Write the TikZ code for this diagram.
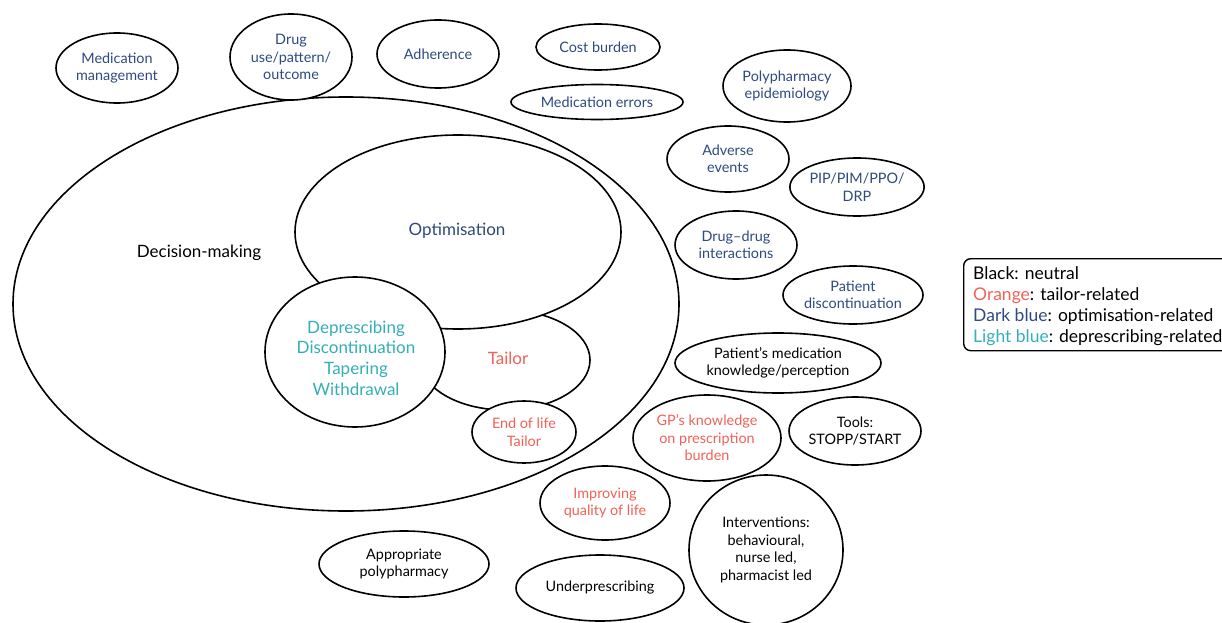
\documentclass[tikz,border=0pt]{standalone}
\usepackage{fontspec}
\setmainfont{Lato}
\usetikzlibrary{shapes.geometric}
\definecolor{dblue}{RGB}{46,74,128}
\definecolor{orng}{RGB}{240,98,88}
\definecolor{lblue}{RGB}{52,174,184}
\tikzset{
  ell/.style={ellipse, draw=black, line width=1.6pt, fill=white, inner sep=0pt, align=center,
    font=\fontsize{14.4}{17.5}\selectfont},
  lbl/.style={inner sep=0pt, align=center},
}
\newcommand{\ellnode}[6]{% name, x, y, rx, ry, text
  \node[ell, minimum width=#4*2pt, minimum height=#5*2pt] (#1) at (#2,#3) {#6};}
\begin{document}
\begin{tikzpicture}[x=1pt,y=-1pt]
\useasboundingbox (0,0) rectangle (1222,623);
% big containers
\node[ell, minimum width=666pt, minimum height=414pt] (dm) at (346,304) {};
\node[lbl, font=\fontsize{17}{20}\selectfont] (dmt) at (199,253) {Decision-making};
\node[ell, minimum width=170pt, minimum height=100pt] (tl) at (505,360) {};
\node[lbl, font=\fontsize{17}{20}\selectfont, text=orng] (tlt) at (508,358) {Tailor};
\node[ell, minimum width=326pt, minimum height=194pt] (op) at (458,232) {};
\node[lbl, font=\fontsize{17}{20}\selectfont, text=dblue] (opt) at (457,231) {Optimisation};
\node[ell, minimum width=180pt, minimum height=150pt] (dp) at (355,352) {};
\node[lbl, text=lblue, font=\fontsize{17}{20.7}\selectfont] (dpt) at (356,358) {Deprescibing\\Discontinuation\\Tapering\\Withdrawal};
\node[ell, minimum width=104pt, minimum height=62pt, text=orng] (eol) at (524,432) {End of life\\Tailor};
% small ellipses
\begin{scope}[every node/.append style={text=dblue}]
\ellnode{mm}{117}{68}{61}{35}{Medication\\management}
\ellnode{du}{291}{57}{61}{43}{Drug\\use/pattern/\\outcome}
\ellnode{ad}{438}{54}{61}{34}{Adherence}
\ellnode{cb}{598}{47}{62}{23}{Cost burden}
\ellnode{me}{597}{102}{86}{17.5}{Medication errors}
\ellnode{pe}{787}{86}{64}{36}{Polypharmacy\\epidemiology}
\ellnode{ae}{728}{159}{61}{33}{Adverse\\events}
\ellnode{pip}{857}{187}{61}{29}{PIP/PIM/PPO/\\DRP}
\ellnode{ddi}{736}{245}{61}{34}{Drug–drug\\interactions}
\ellnode{pd}{853}{295}{70}{29}{Patient\\discontinuation}
\end{scope}
\ellnode{pk}{778}{363}{103}{30}{Patient’s medication\\knowledge/perception}
\begin{scope}[every node/.append style={text=orng}]
\ellnode{gp}{707}{438}{74}{43}{GP’s knowledge\\on prescription\\burden}
\ellnode{iq}{605}{503}{65}{37}{Improving\\quality of life}
\end{scope}
\ellnode{tools}{855}{431}{66}{34}{Tools:\\STOPP/START}
\ellnode{iv}{766}{550}{77}{75}{Interventions:\\behavioural,\\nurse led,\\pharmacist led}
\ellnode{ap}{404}{564}{85}{33}{Appropriate\\polypharmacy}
\ellnode{up}{600}{588}{84}{33}{Underprescribing}
% legend
\node[draw=black, line width=1.4pt, rounded corners=7pt, minimum width=275pt, minimum height=92pt, anchor=north west, inner sep=0pt] (leg) at (963,258) {};
\node[anchor=west, align=left, inner sep=0pt, font=\fontsize{17.5}{21}\selectfont] (legt) at (973,306)
  {Black: neutral\\\textcolor{orng}{Orange}: tailor-related\\\textcolor{dblue}{Dark blue}: optimisation-related\\\textcolor{lblue}{Light blue}: deprescribing-related};
\end{tikzpicture}
\end{document}
